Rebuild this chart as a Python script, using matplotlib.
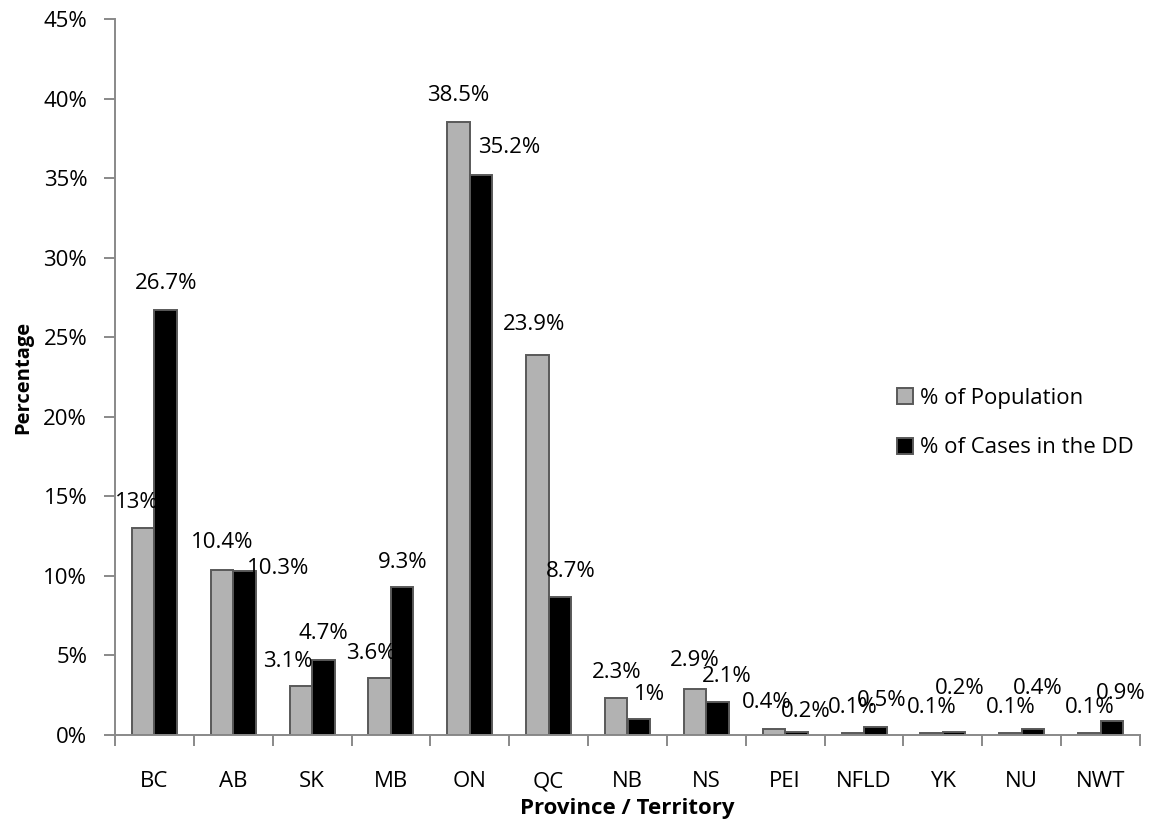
import numpy as np
import matplotlib
matplotlib.use("Agg")
import matplotlib.pyplot as plt
from matplotlib.patches import Patch
from matplotlib.ticker import FuncFormatter, MultipleLocator

plt.rcParams.update({
    'font.family': ['Open Sans', 'DejaVu Sans'],
    'font.size': 16,
})

provinces = ['BC', 'AB', 'SK', 'MB', 'ON', 'QC', 'NB', 'NS', 'PEI', 'NFLD', 'YK', 'NU', 'NWT']
pct_population = [13, 10.4, 3.1, 3.6, 38.5, 23.9, 2.3, 2.9, 0.4, 0.1, 0.1, 0.1, 0.1]
pct_cases = [26.7, 10.3, 4.7, 9.3, 35.2, 8.7, 1, 2.1, 0.2, 0.5, 0.2, 0.4, 0.9]

# label nudges in pixels (dx, dy) from the top centre of each bar
pop_nudge = [(-6, 26), (0, 27), (-13, 24), (-9, 24), (0, 27), (-3, 30), (0, 26),
             (0, 28), (-7, 26), (0, 26), (0, 26), (0, 26), (0, 26)]
case_nudge = [(0, 27), (34, 3), (0, 27), (0, 25), (28, 27), (11, 25), (11, 25),
              (9, 25), (9, 20), (6, 27), (6, 43), (5, 40), (9, 27)]

GREY = '#b2b2b2'
EDGE = '#595959'
AXIS = '#898989'

fig = plt.figure(figsize=(11.55, 8.25), dpi=100)
ax = fig.add_axes([115 / 1155, 1 - 735 / 825, 1025 / 1155, 716 / 825])

x = np.arange(len(provinces)) + 0.5
w = 0.2855
b1 = ax.bar(x - w / 2, pct_population, w, color=GREY, edgecolor=EDGE, linewidth=1.4,
            label='% of Population')
b2 = ax.bar(x + w / 2, pct_cases, w, color='black', edgecolor=EDGE, linewidth=1.4,
            label='% of Cases in the DD')

for bars, vals, nudges in [(b1, pct_population, pop_nudge), (b2, pct_cases, case_nudge)]:
    for rect, v, (dx, dy) in zip(bars, vals, nudges):
        ax.annotate(f"{v:g}%", (rect.get_x() + rect.get_width() / 2, v),
                    xytext=(dx, dy), textcoords='offset pixels',
                    ha='center', va='center', fontsize=16, zorder=5)

ax.set_xlim(0, len(provinces))
ax.set_ylim(0, 45)
ax.yaxis.set_major_locator(MultipleLocator(5))
ax.yaxis.set_major_formatter(FuncFormatter(lambda v, _: f"{v:.0f}%"))

ax.set_xticks(x)
ax.set_xticklabels(provinces)
ax.set_xticks(np.arange(len(provinces) + 1), minor=True)
ax.tick_params(axis='x', which='major', length=0, pad=26)
ax.tick_params(axis='x', which='minor', length=8, width=1.4, color=AXIS)
ax.tick_params(axis='y', length=8, width=1.4, color=AXIS, pad=12)

for side in ['top', 'right']:
    ax.spines[side].set_visible(False)
for side in ['left', 'bottom']:
    ax.spines[side].set_color(AXIS)
    ax.spines[side].set_linewidth(1.4)

ax.set_xlabel('Province / Territory', fontweight='bold', fontsize=16, labelpad=4)
ax.set_ylabel('Percentage', fontweight='bold', fontsize=14.5, labelpad=7)

handles = [Patch(facecolor=GREY, edgecolor=EDGE, linewidth=1.4),
           Patch(facecolor='black', edgecolor=EDGE, linewidth=1.4)]
fig.legend(handles, ['% of Population', '% of Cases in the DD'],
           loc='center left', bbox_to_anchor=(897 / 1155, 1 - 423 / 825),
           frameon=False, fontsize=16, handlelength=0.72, handleheight=0.72,
           handletextpad=0.3, labelspacing=1.3, borderpad=0, borderaxespad=0)

fig.savefig('out.png', dpi=100)
